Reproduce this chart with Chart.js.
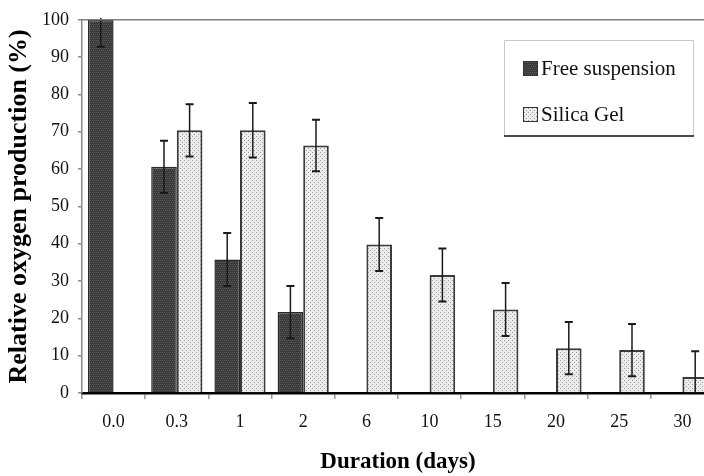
<!DOCTYPE html>
<html>
<head>
<meta charset="utf-8">
<script src="https://cdn.jsdelivr.net/npm/chart.js@4.4.1/dist/chart.umd.min.js"></script>
<style>
    html, body { margin: 0; padding: 0; background: #fff; overflow: hidden; }
    #wrap { width: 704px; height: 476px; overflow: hidden; }
</style>
</head>
<body>
<div id="wrap"><canvas id="oxyChart" width="716" height="476"></canvas></div>
<script>
// Data
const durations = ["0.0", "0.3", "1", "2", "6", "10", "15", "20", "25", "30"];
const freeSuspension = [100, 60.6, 35.8, 21.7, null, null, null, null, null, null];
const freeErr = [7.2, 7.0, 7.1, 7.0, null, null, null, null, null, null];
const silicaGel = [null, 70.4, 70.4, 66.3, 39.8, 31.6, 22.4, 12.0, 11.5, 4.3];
const silicaErr = [null, 7.0, 7.3, 6.9, 7.1, 7.1, 7.1, 7.0, 7.0, 6.9];
const yTicks = [0, 10, 20, 30, 40, 50, 60, 70, 80, 90, 100];

const serif = "'Liberation Serif', 'DejaVu Serif', serif";

// Small pixel patterns to mimic the hatched fills of the original
function makePattern(bg, dot, cells) {
    const c = document.createElement("canvas");
    c.width = 4; c.height = 4;
    const g = c.getContext("2d");
    g.fillStyle = bg;
    g.fillRect(0, 0, 4, 4);
    g.fillStyle = dot;
    cells.forEach(([x, y]) => g.fillRect(x, y, 1, 1));
    return g.createPattern(c, "repeat");
}
const darkFill = makePattern("#3a3a3a", "#5a5a5a", [[0, 0], [2, 0], [1, 2], [3, 2]]);
const lightFill = makePattern("#ececec", "#9a9a9a", [[0, 0], [2, 2]]);

// Error bars drawn on top of the bars
const errorBars = {
    id: "errorBars",
    afterDatasetsDraw(chart) {
        const { ctx, chartArea, scales: { y } } = chart;
        const errs = [freeErr, silicaErr];
        ctx.save();
        ctx.beginPath();
        ctx.rect(chartArea.left, chartArea.top - 2, chartArea.right - chartArea.left, chartArea.bottom - chartArea.top + 2);
        ctx.clip();
        ctx.strokeStyle = "#1a1a1a";
        chart.data.datasets.forEach((ds, di) => {
            const meta = chart.getDatasetMeta(di);
            meta.data.forEach((bar, i) => {
                const v = ds.data[i];
                const e = errs[di][i];
                if (v == null || e == null) return;
                const yTop = y.getPixelForValue(Math.min(v + e, 100.6));
                const yBot = y.getPixelForValue(Math.max(v - e, 0));
                ctx.lineWidth = 1.5;
                ctx.beginPath();
                ctx.moveTo(bar.x, yTop);
                ctx.lineTo(bar.x, yBot);
                ctx.stroke();
                ctx.lineWidth = 2;
                ctx.beginPath();
                if (v + e <= 100) { ctx.moveTo(bar.x - 4, yTop); ctx.lineTo(bar.x + 4, yTop); }
                if (v - e > 0) { ctx.moveTo(bar.x - 4, yBot); ctx.lineTo(bar.x + 4, yBot); }
                ctx.stroke();
            });
        });
        ctx.restore();
    }
};

// Top frame line and boxed legend
const frameAndLegend = {
    id: "frameAndLegend",
    afterDraw(chart) {
        const { ctx, chartArea } = chart;
        ctx.save();
        ctx.strokeStyle = "#808080";
        ctx.lineWidth = 1.5;
        ctx.beginPath();
        ctx.moveTo(chartArea.left, chartArea.top);
        ctx.lineTo(chartArea.right, chartArea.top);
        ctx.stroke();

        // legend box
        const bx = 504, by = 40, bw = 190, bh = 96;
        ctx.fillStyle = "#fff";
        ctx.fillRect(bx, by, bw, bh);
        ctx.strokeStyle = "#c8c8c8";
        ctx.lineWidth = 1;
        ctx.beginPath();
        ctx.moveTo(bx + 0.5, by + bh);
        ctx.lineTo(bx + 0.5, by + 0.5);
        ctx.lineTo(bx + bw - 0.5, by + 0.5);
        ctx.lineTo(bx + bw - 0.5, by + bh);
        ctx.stroke();
        ctx.strokeStyle = "#111";
        ctx.lineWidth = 1.5;
        ctx.beginPath();
        ctx.moveTo(bx, by + bh);
        ctx.lineTo(bx + bw, by + bh);
        ctx.stroke();

        const items = [
            { label: chart.data.datasets[0].label, fill: darkFill, y: 68 },
            { label: chart.data.datasets[1].label, fill: lightFill, y: 114 }
        ];
        ctx.font = "21px " + serif;
        ctx.textBaseline = "middle";
        ctx.textAlign = "left";
        items.forEach(it => {
            ctx.fillStyle = it.fill;
            ctx.fillRect(523, it.y - 7, 15, 15);
            ctx.strokeStyle = "#333";
            ctx.lineWidth = 1;
            ctx.strokeRect(523.5, it.y - 6.5, 14, 14);
            ctx.fillStyle = "#111";
            ctx.fillText(it.label, 541, it.y + 1);
        });
        ctx.restore();
    }
};

new Chart(document.getElementById("oxyChart"), {
    type: "bar",
    data: {
        labels: durations,
        datasets: [
            {
                label: "Free suspension",
                data: freeSuspension,
                backgroundColor: darkFill,
                borderColor: "#2a2a2a",
                borderWidth: 1.5,
                borderSkipped: "bottom"
            },
            {
                label: "Silica Gel",
                data: silicaGel,
                backgroundColor: lightFill,
                borderColor: "#3a3a3a",
                borderWidth: 2,
                borderSkipped: "bottom"
            }
        ]
    },
    options: {
        responsive: false,
        animation: false,
        devicePixelRatio: 1,
        layout: { padding: { top: 19, right: 2, left: 0, bottom: 0 } },
        categoryPercentage: 0.81,
        barPercentage: 1.0,
        plugins: {
            legend: { display: false },
            tooltip: { enabled: false }
        },
        scales: {
            x: {
                afterFit: (s) => { s.height = 83; },
                grid: { display: true, drawOnChartArea: false, drawTicks: true, tickLength: 6, color: "#9a9a9a", lineWidth: 1.5 },
                border: { display: true, color: "#000", width: 2.5 },
                ticks: { color: "#111", padding: 12, font: { family: serif, size: 18 } },
                title: {
                    display: true,
                    text: "Duration (days)",
                    color: "#000",
                    font: { family: serif, size: 23, weight: "bold" },
                    padding: { top: 0, bottom: 0 }
                }
            },
            y: {
                min: 0,
                max: 100,
                afterFit: (s) => { s.width = 82; },
                afterBuildTicks: (s) => { s.ticks = yTicks.map(v => ({ value: v })); },
                grid: { display: true, drawOnChartArea: false, drawTicks: true, tickLength: 4, color: "#8a8a8a", lineWidth: 1.5 },
                border: { display: true, color: "#8a8a8a", width: 1.5 },
                ticks: { color: "#111", padding: 9, font: { family: serif, size: 18 } },
                title: {
                    display: true,
                    text: "Relative oxygen production (%)",
                    color: "#000",
                    font: { family: serif, size: 26, weight: "bold" },
                    padding: { top: 4, bottom: 0 }
                }
            }
        }
    },
    plugins: [errorBars, frameAndLegend]
});
</script>
</body>
</html>
